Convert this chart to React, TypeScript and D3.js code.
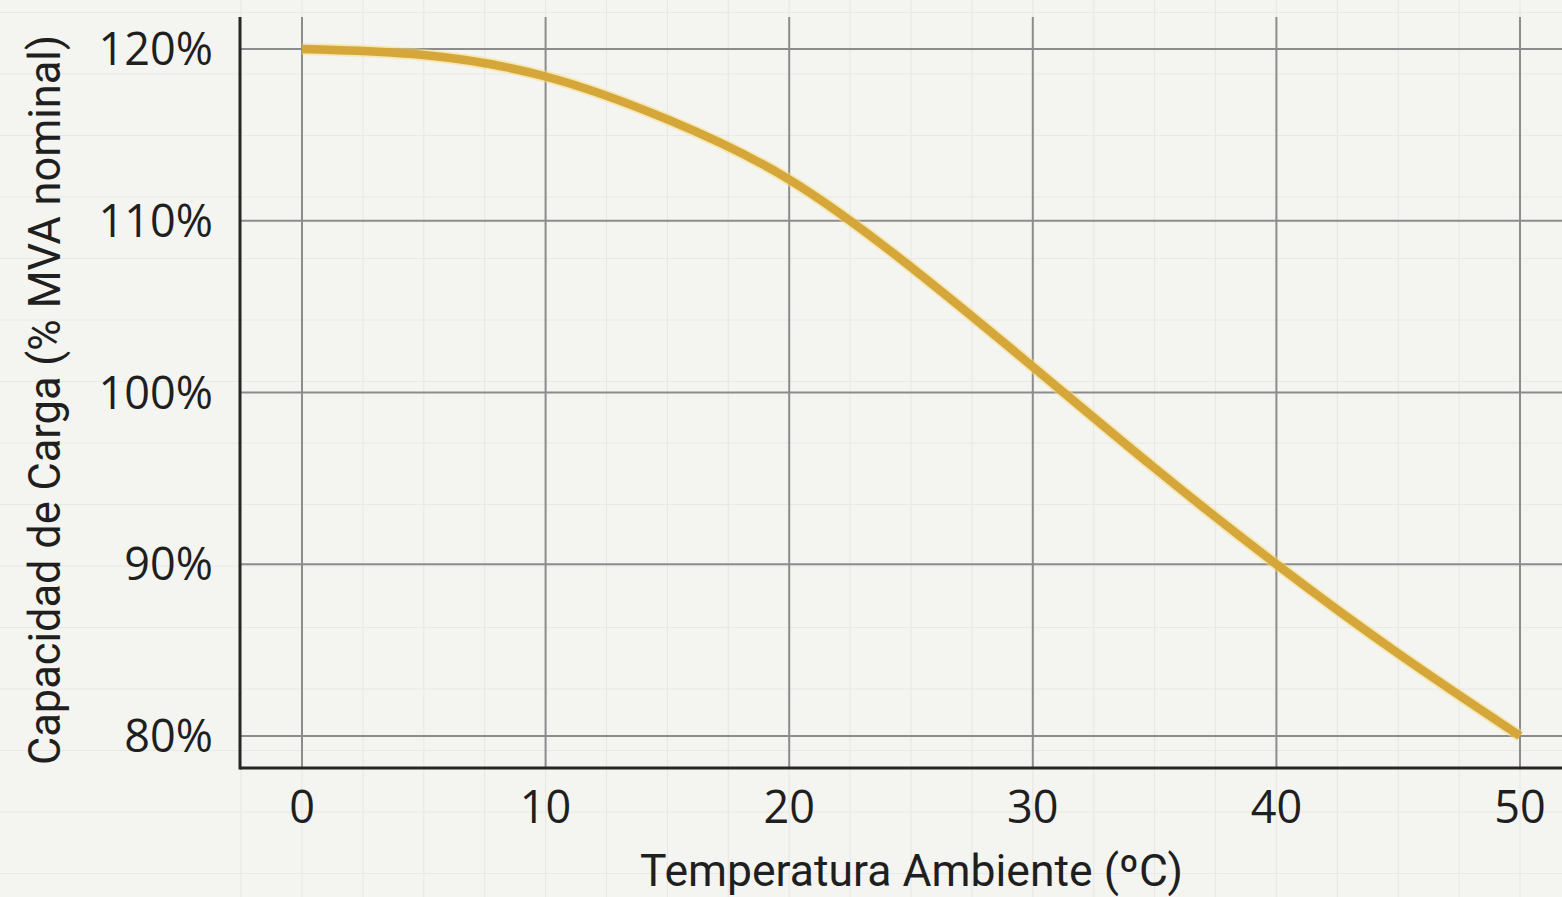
import React from 'react';
import * as d3 from 'd3';

// Ambient temperature (°C) vs loading capability (% of nameplate MVA)
const temperatures = [0, 5, 10, 15, 20, 25, 30, 35, 40, 45, 50];
const capacity = [120, 119.65, 118.4, 115.9, 112.4, 107.3, 101.5, 95.6, 90.0, 84.8, 80.0];

const xTicks = [0, 10, 20, 30, 40, 50];
const yTicks = [80, 90, 100, 110, 120];
const minorXTicks = d3.range(-2.5, 52.5, 2.5);

const xLabel = 'Temperatura Ambiente (ºC)';
const yLabel = 'Capacidad de Carga (% MVA nominal)';

const width = 1562;
const height = 897;

const App: React.FC = () => {
  const x = d3.scaleLinear().domain([0, 50]).range([302, 1520]);
  const y = d3.scaleLinear().domain([80, 120]).range([736, 49]);

  const left = 240;
  const bottom = 768;
  const top = 17;
  const right = width;

  const line = d3
    .line<number>()
    .x((_, i) => x(temperatures[i]))
    .y(d => y(d))
    .curve(d3.curveNatural);
  const path = line(capacity) ?? '';

  // faint "paper" rows behind the chart
  const paperRows = d3.range(12.5, height, 61.5);

  return (
    <svg
      width={width}
      height={height}
      style={{ position: 'fixed', left: 0, top: 0, background: '#f4f4f1' }}
    >
      <rect x={0} y={0} width={width} height={height} fill="#f4f4f1" />

      {/* background paper grid */}
      <g stroke="#e8e8e5" strokeWidth={1.2}>
        {minorXTicks.map(t => (
          <line key={'mx' + t} x1={x(t)} x2={x(t)} y1={0} y2={height} />
        ))}
        {paperRows.map(r => (
          <line key={'my' + r} x1={0} x2={width} y1={r} y2={r} />
        ))}
      </g>

      {/* major grid */}
      <g stroke="#8c8c8c" strokeWidth={2}>
        {xTicks.map(t => (
          <line key={'gx' + t} x1={x(t)} x2={x(t)} y1={top} y2={bottom} />
        ))}
        {yTicks.map(t => (
          <line key={'gy' + t} x1={left} x2={right} y1={y(t)} y2={y(t)} />
        ))}
      </g>

      {/* axes */}
      <line x1={left} x2={left} y1={top} y2={bottom + 1.5} stroke="#262626" strokeWidth={3} />
      <line x1={left} x2={right} y1={bottom} y2={bottom} stroke="#262626" strokeWidth={3} />

      {/* curve with a soft glow */}
      <path d={path} fill="none" stroke="#f7dc73" strokeWidth={12} strokeOpacity={0.5} />
      <path d={path} fill="none" stroke="#d5a63a" strokeWidth={8.5} />

      {/* tick labels */}
      <g fontFamily="'Open Sans', sans-serif" fontSize={45} fill="#1f1f1f">
        {xTicks.map(t => (
          <text key={'tx' + t} x={x(t)} y={823} textAnchor="middle">
            {t}
          </text>
        ))}
        {yTicks.map(t => (
          <text key={'ty' + t} x={213} y={y(t) + 16} textAnchor="end">
            {t}%
          </text>
        ))}
      </g>

      {/* axis titles */}
      <text
        x={911.5}
        y={886}
        textAnchor="middle"
        fontFamily="Roboto, sans-serif"
        fontSize={44}
        fill="#1f1f1f"
        textLength={543}
        lengthAdjust="spacingAndGlyphs"
      >
        {xLabel}
      </text>
      <text
        transform="translate(60,400) rotate(-90)"
        textAnchor="middle"
        fontFamily="Roboto, sans-serif"
        fontSize={44}
        fill="#1f1f1f"
        textLength={730}
        lengthAdjust="spacingAndGlyphs"
      >
        {yLabel}
      </text>
    </svg>
  );
};

export default App;
